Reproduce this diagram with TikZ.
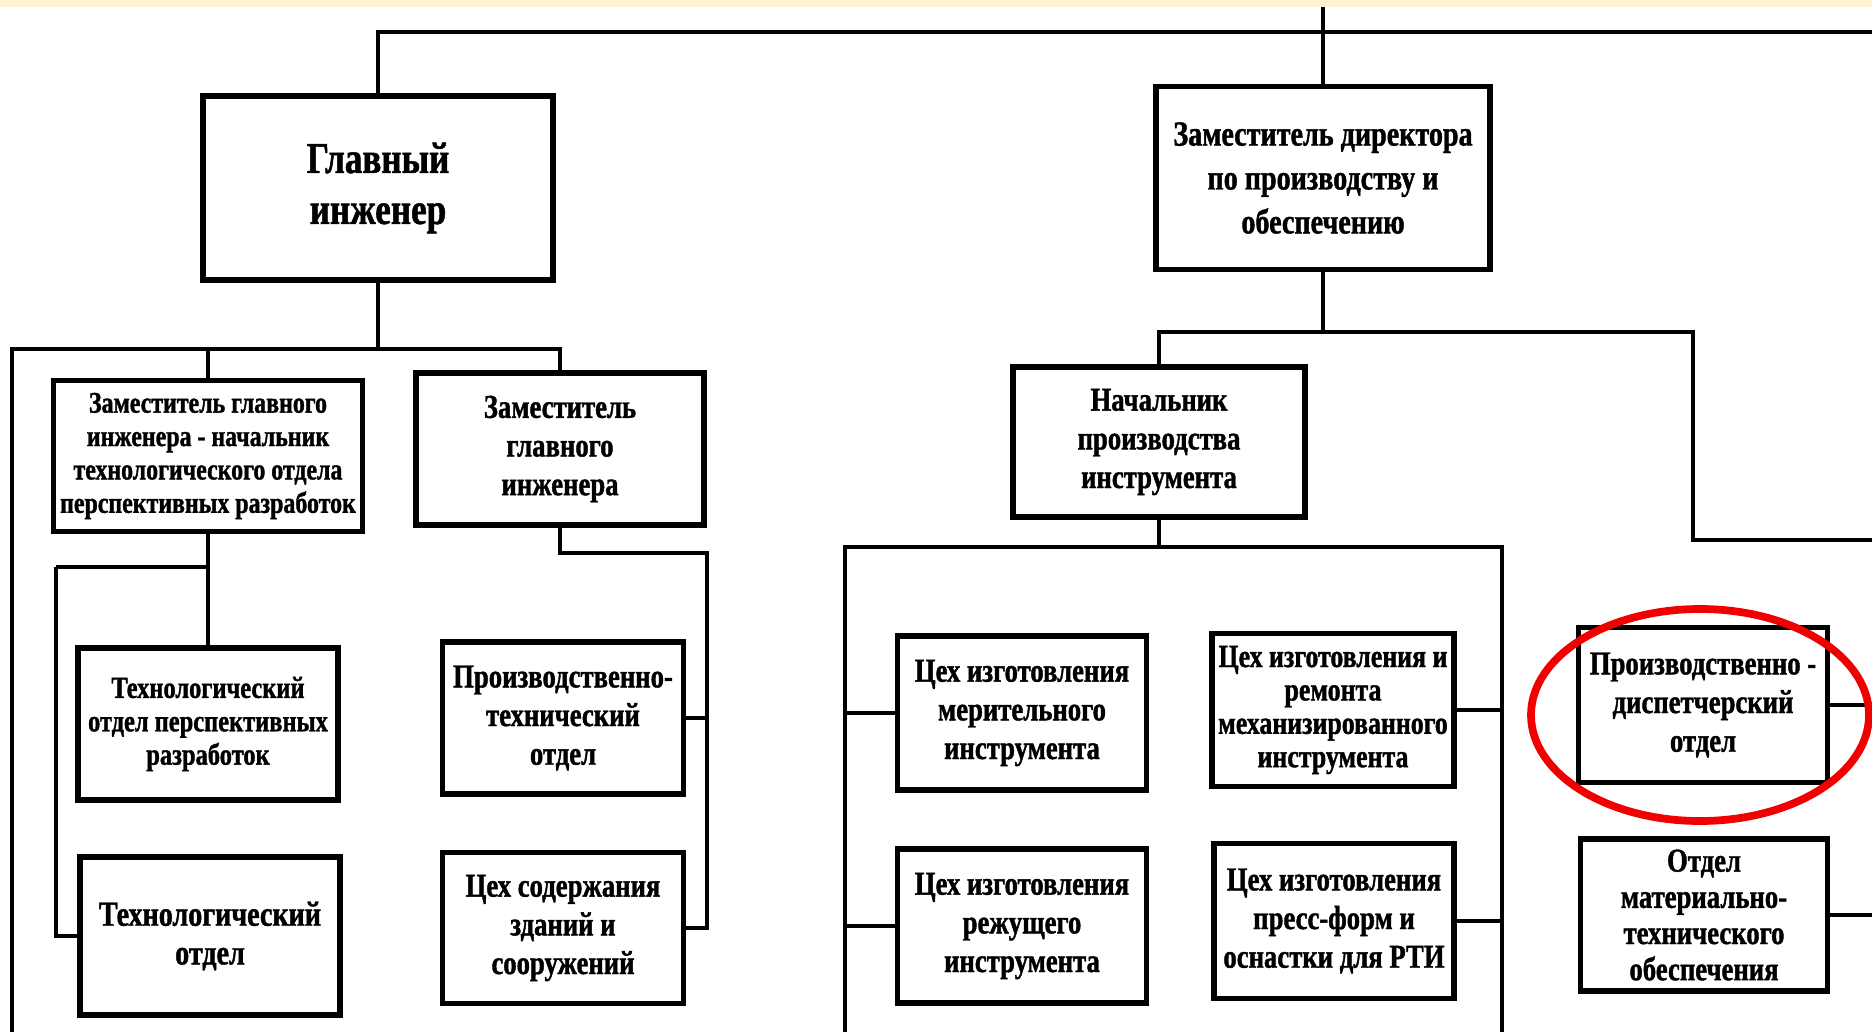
\documentclass[tikz,border=0pt]{standalone}
\usepackage{fontspec}
\setmainfont{Liberation Serif}[FakeStretch=0.8, BoldFeatures={FakeBold=1.2}]
\usepackage{tikz}
\definecolor{bandyellow}{HTML}{FFF3D2}
\definecolor{ringred}{HTML}{F00000}
\tikzset{
    orgbox/.style={draw, line width=1.5pt, align=center, inner sep=0pt,
        font=\bfseries\fontsize{9.5}{11}\selectfont},
    link/.style={line width=1.2pt}
}

\begin{document}
\begin{tikzpicture}[x=0.1mm, y=-0.1mm]
    \useasboundingbox (0,0) rectangle (1872,1032);
    \fill[bandyellow] (0,0) rectangle (1872,7);

    % top level
    \node(gi)[orgbox, minimum width=35mm, minimum height=18.4mm, font=\bfseries\fontsize{12.5}{14.5}\selectfont] at (378,188) {Главный\\инженер};
    \node(zd)[orgbox, minimum width=33.4mm, minimum height=18.3mm, font=\bfseries\fontsize{10}{12.5}\selectfont] at (1323,178) {Заместитель директора\\по производству и\\обеспечению};

    % under the chief engineer
    \node(zgi1)[orgbox, minimum width=30.9mm, minimum height=15.1mm, font=\bfseries\fontsize{8.5}{9.5}\selectfont] at (208,456) {Заместитель главного\\инженера - начальник\\технологического отдела\\перспективных разработок};
    \node(zgi2)[orgbox, minimum width=28.8mm, minimum height=15.2mm] at (560,449) {Заместитель\\главного\\инженера};
    \node(tops)[orgbox, minimum width=26mm, minimum height=15.2mm, font=\bfseries\fontsize{8.7}{9.5}\selectfont] at (208,724) {Технологический\\отдел перспективных\\разработок};
    \node(to)[orgbox, minimum width=26mm, minimum height=15.8mm, font=\bfseries\fontsize{10}{11}\selectfont] at (210,936) {Технологический\\отдел};
    \node(pto)[orgbox, minimum width=24.1mm, minimum height=15.2mm] at (563,718) {Производственно-\\технический\\отдел};
    \node(czs)[orgbox, minimum width=24.1mm, minimum height=15.1mm] at (563,928) {Цех содержания\\зданий и\\сооружений};

    % under the deputy director
    \node(npi)[orgbox, minimum width=29.2mm, minimum height=15mm] at (1159,442) {Начальник\\производства\\инструмента};
    \node(c1)[orgbox, minimum width=24.9mm, minimum height=15.4mm] at (1022,713) {Цех изготовления\\мерительного\\инструмента};
    \node(c2)[orgbox, minimum width=24.2mm, minimum height=15.3mm, font=\bfseries\fontsize{9.2}{9.5}\selectfont] at (1333,710) {Цех изготовления и\\ремонта\\механизированного\\инструмента};
    \node(c3)[orgbox, minimum width=24.9mm, minimum height=15.4mm] at (1022,926) {Цех изготовления\\режущего\\инструмента};
    \node(c4)[orgbox, minimum width=24mm, minimum height=15.5mm] at (1334,921) {Цех изготовления\\пресс-форм и\\оснастки для РТИ};
    \node(pdo)[orgbox, minimum width=24.9mm, minimum height=15.5mm] at (1703,705) {Производственно -\\диспетчерский\\отдел};
    \node(omto)[orgbox, minimum width=24.7mm, minimum height=15.2mm, font=\bfseries\fontsize{9.5}{10.3}\selectfont] at (1704,915) {Отдел\\материально-\\технического\\обеспечения};

    % junction points
    \coordinate(top0) at (1323,7);
    \coordinate(top1) at (378,32);
    \coordinate(top2) at (1872,32);
    \coordinate(busL) at (12,349);
    \coordinate(busR) at (560,349);
    \coordinate(botL) at (12,1032);
    \coordinate(b2) at (56,567);
    \coordinate(b3) at (707,553);
    \coordinate(b4) at (1693,332);
    \coordinate(b5) at (1693,540);
    \coordinate(e1) at (1872,540);
    \coordinate(b6) at (845,547);
    \coordinate(b7) at (1502,547);
    \coordinate(b6d) at (845,1032);
    \coordinate(b7d) at (1502,1032);
    \coordinate(e2) at (1872,0);

    \draw[link] (gi) -- (top1) -- (top2);
    \draw[link] (top0) -- (zd);
    \draw[link] (gi) -- (gi |- busL);
    \draw[link] (botL) -- (busL) -- (busR) -- (zgi2);
    \draw[link] (zgi1 |- busL) -- (zgi1);
    \draw[link] (zgi1) -- (tops);
    \draw[link] (b2) -- (b2 -| zgi1);
    \draw[link] (b2) |- (to);
    \draw[link] (zgi2) -- (zgi2 |- b3) -- (b3) -- (b3 |- czs) -- (czs);
    \draw[link] (pto) -- (pto -| b3);
    \draw[link] (zd) -- (zd |- b4);
    \draw[link] (npi) -- (npi |- b4) -- (b4) -- (b5) -- (e1);
    \draw[link] (npi) -- (npi |- b6);
    \draw[link] (b6d) -- (b6) -- (b7) -- (b7d);
    \draw[link] (c1) -- (c1 -| b6);
    \draw[link] (c3) -- (c3 -| b6);
    \draw[link] (c2) -- (c2 -| b7);
    \draw[link] (c4) -- (c4 -| b7);
    \draw[link] (pdo) -- (pdo -| e2);
    \draw[link] (omto) -- (omto -| e2);

    \draw[ringred, line width=2.2pt] (1700,715) ellipse [x radius=16.9mm, y radius=10.6mm];
\end{tikzpicture}
\end{document}
